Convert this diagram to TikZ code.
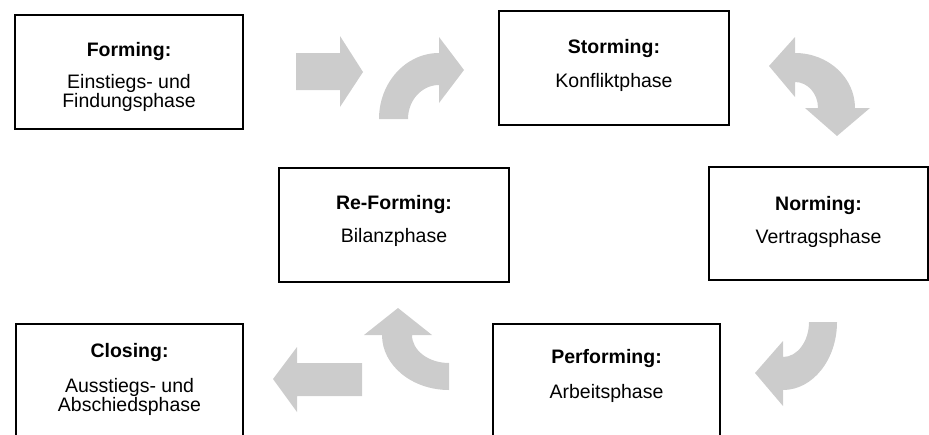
\documentclass[tikz,border=0pt]{standalone}
\usepackage{fontspec}
\setmainfont{Liberation Sans}
\definecolor{arrowgray}{RGB}{204,204,204}
\begin{document}
\begin{tikzpicture}[x=1pt,y=1pt,
  phasebox/.style={draw=black, line width=2pt, fill=white, inner sep=0pt, anchor=north west},
  titletext/.style={anchor=base, font=\fontsize{19.5}{19}\selectfont\bfseries, inner sep=0pt},
  bodytext/.style={anchor=base, font=\fontsize{19.5}{19}\selectfont, inner sep=0pt},
  bigarrow/.style={fill=arrowgray, draw=none}]
\useasboundingbox (0,0) rectangle (929,-434);
\clip (0,0) rectangle (929,-434);

% boxes
\node[phasebox, minimum width=228pt, minimum height=114pt] (forming) at (14,-14) {};
\node[phasebox, minimum width=230pt, minimum height=114pt] (storming) at (498,-10) {};
\node[phasebox, minimum width=230pt, minimum height=114pt] (reforming) at (278,-167) {};
\node[phasebox, minimum width=219pt, minimum height=113pt] (norming) at (708,-166) {};
\node[phasebox, minimum width=227pt, minimum height=120pt] (performing) at (492,-323) {};
\node[phasebox, minimum width=227pt, minimum height=120pt] (closing) at (15,-323) {};

% texts
\node[titletext] (formingT) at ([yshift=-42pt]forming.north) {Forming:};
\node[bodytext] (formingB1) at ([yshift=-74pt]forming.north) {Einstiegs- und};
\node[bodytext] (formingB2) at ([yshift=-93.5pt]forming.north) {Findungsphase};

\node[titletext] (stormingT) at ([yshift=-43pt]storming.north) {Storming:};
\node[bodytext] (stormingB) at ([yshift=-77pt]storming.north) {Konfliktphase};

\node[titletext] (reformingT) at ([yshift=-42pt]reforming.north) {Re-Forming:};
\node[bodytext] (reformingB) at ([yshift=-75pt]reforming.north) {Bilanzphase};

\node[titletext] (normingT) at ([yshift=-44pt]norming.north) {Norming:};
\node[bodytext] (normingB) at ([yshift=-77pt]norming.north) {Vertragsphase};

\node[titletext] (performingT) at ([yshift=-40pt]performing.north) {Performing:};
\node[bodytext] (performingB) at ([yshift=-75pt]performing.north) {Arbeitsphase};

\node[titletext] (closingT) at ([yshift=-34pt]closing.north) {Closing:};
\node[bodytext] (closingB1) at ([yshift=-69pt]closing.north) {Ausstiegs- und};
\node[bodytext] (closingB2) at ([yshift=-88.5pt]closing.north) {Abschiedsphase};

% arrow 1: straight right
\fill[bigarrow] (296,-53) -- (340,-53) -- (340,-36) -- (363,-72) -- (340,-107) -- (340,-90) -- (296,-90) -- cycle;

% arrow 2: curved up-right
\fill[bigarrow] (379,-119) arc[start angle=180, end angle=90, x radius=60pt, y radius=66pt]
  -- (439,-37) -- (464,-70) -- (439,-103) -- (439,-85)
  arc[start angle=90, end angle=180, x radius=31pt, y radius=34pt] -- cycle;

% arrow 3: double-headed curved (Storming -> Norming)
\fill[bigarrow] (795,-53) arc[start angle=90, end angle=0, x radius=60pt, y radius=55pt]
  -- (870,-108) -- (837,-136) -- (805,-108) -- (818,-108)
  arc[start angle=0, end angle=90, x radius=23pt, y radius=26pt]
  -- (795,-97) -- (769,-66) -- (795,-37) -- cycle;

% arrow 4: curved down-left (Norming -> Performing)
\fill[bigarrow] (837,-322) arc[start angle=0, end angle=-90, x radius=54pt, y radius=68pt]
  -- (783,-406) -- (755,-373) -- (783,-341) -- (783,-357)
  arc[start angle=-90, end angle=0, x radius=26pt, y radius=35pt] -- cycle;

% arrow 5: curved up (Performing -> Re-Forming)
\fill[bigarrow] (449,-390) arc[start angle=-90, end angle=-180, x radius=67pt, y radius=55pt]
  -- (364,-335) -- (398,-308) -- (432,-335) -- (412,-335)
  arc[start angle=180, end angle=270, x radius=37pt, y radius=28pt] -- cycle;

% arrow 6: straight left
\fill[bigarrow] (362,-363) -- (297,-363) -- (297,-347) -- (273,-379) -- (297,-412) -- (297,-396) -- (362,-396) -- cycle;
\end{tikzpicture}
\end{document}
